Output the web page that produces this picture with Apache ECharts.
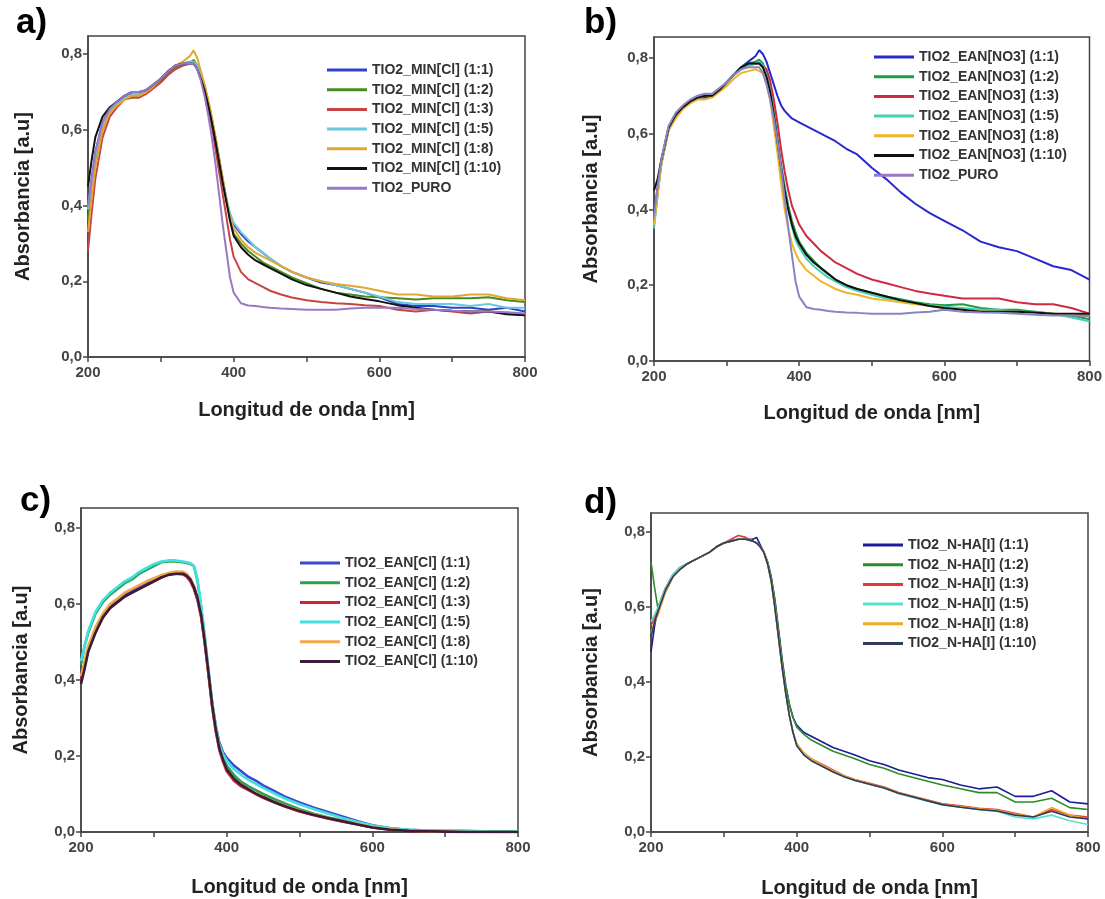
<!DOCTYPE html>
<html><head><meta charset="utf-8">
<script src="https://cdn.jsdelivr.net/npm/echarts@6/dist/echarts.min.js"></script>
<style>html,body{margin:0;padding:0;background:#fff}#c{width:1105px;height:899px}</style>
</head><body><div id="c"></div>
<script>
// wavelength grid (nm)
const X = [200,205,210,220,230,240,250,260,270,280,290,300,310,320,330,340,345,350,355,360,365,370,375,380,385,390,395,400,410,420,430,440,450,465,480,500,520,540,560,580,600,625,650,675,700,725,750,775,800];
const xTicks = [200,400,600,800];
const yTicks = [0,0.2,0.4,0.6,0.8];

// ---- panel a ----
const namesA = ['TIO2_MIN[Cl] (1:1)','TIO2_MIN[Cl] (1:2)','TIO2_MIN[Cl] (1:3)','TIO2_MIN[Cl] (1:5)','TIO2_MIN[Cl] (1:8)','TIO2_MIN[Cl] (1:10)','TIO2_PURO'];
const colorsA = ['#3340c8','#4b8a22','#c84444','#6cc8dc','#e0a830','#111111','#9a78c8'];
const a1 = [.40,.47,.54,.62,.655,.675,.69,.70,.695,.705,.72,.735,.755,.77,.775,.78,.78,.765,.74,.71,.67,.625,.575,.52,.465,.415,.375,.35,.325,.305,.29,.275,.26,.24,.225,.21,.197,.19,.18,.17,.158,.14,.135,.135,.13,.13,.125,.13,.12];
const a2 = [.36,.44,.51,.60,.645,.67,.685,.69,.69,.70,.715,.73,.75,.765,.77,.775,.785,.77,.745,.715,.675,.63,.58,.525,.47,.415,.365,.325,.30,.28,.265,.25,.24,.225,.21,.195,.18,.17,.165,.16,.158,.155,.152,.155,.155,.155,.158,.15,.145];
const a3 = [.28,.38,.47,.58,.635,.66,.68,.685,.685,.695,.71,.725,.745,.76,.77,.775,.78,.765,.74,.705,.66,.61,.55,.49,.43,.37,.31,.265,.225,.205,.195,.185,.175,.165,.157,.15,.145,.142,.14,.137,.135,.125,.12,.125,.12,.115,.12,.115,.11];
const a5 = [.39,.46,.53,.61,.65,.67,.685,.695,.695,.705,.72,.735,.755,.77,.775,.78,.78,.77,.745,.715,.675,.63,.58,.525,.47,.42,.38,.355,.33,.31,.29,.275,.26,.24,.225,.21,.20,.19,.18,.17,.16,.145,.14,.14,.14,.135,.14,.13,.13];
const a8 = [.33,.42,.50,.60,.645,.665,.68,.69,.69,.70,.715,.735,.755,.77,.78,.795,.81,.79,.755,.72,.68,.635,.58,.525,.47,.415,.37,.34,.31,.29,.275,.265,.255,.24,.225,.21,.20,.193,.188,.183,.175,.165,.165,.16,.16,.165,.165,.155,.15];
const a10 = [.45,.52,.58,.635,.66,.675,.69,.70,.70,.705,.72,.735,.755,.77,.775,.775,.775,.76,.735,.705,.665,.62,.57,.515,.46,.41,.36,.32,.29,.27,.255,.245,.235,.22,.205,.19,.18,.17,.16,.153,.147,.137,.13,.125,.122,.12,.12,.113,.11];
const aP = [.40,.47,.54,.62,.655,.675,.69,.70,.70,.705,.72,.735,.755,.77,.775,.775,.775,.76,.73,.69,.64,.58,.51,.43,.35,.28,.21,.17,.142,.136,.135,.132,.13,.128,.127,.125,.125,.125,.128,.13,.13,.13,.127,.125,.122,.12,.12,.118,.115];

// ---- panel b ----
const namesB = ['TIO2_EAN[NO3] (1:1)','TIO2_EAN[NO3] (1:2)','TIO2_EAN[NO3] (1:3)','TIO2_EAN[NO3] (1:5)','TIO2_EAN[NO3] (1:8)','TIO2_EAN[NO3] (1:10)','TIO2_PURO'];
const colorsB = ['#2828d0','#1f9a40','#d02a40','#44d0b4','#f0b428','#111111','#8a84c4'];
const b1 = [.38,.46,.53,.61,.645,.67,.685,.695,.695,.70,.715,.735,.755,.775,.79,.805,.82,.81,.79,.76,.73,.70,.675,.66,.65,.64,.635,.63,.62,.61,.60,.59,.58,.56,.545,.51,.48,.445,.415,.39,.37,.345,.315,.30,.29,.27,.25,.24,.215];
const b2 = [.36,.44,.52,.61,.645,.67,.685,.695,.70,.70,.715,.735,.755,.775,.785,.79,.795,.785,.76,.72,.66,.59,.52,.46,.41,.37,.34,.315,.285,.265,.245,.23,.215,.20,.19,.18,.17,.163,.155,.15,.147,.15,.14,.135,.135,.13,.125,.12,.11];
const b3 = [.37,.45,.52,.61,.645,.67,.685,.695,.70,.70,.715,.735,.755,.77,.78,.785,.785,.78,.77,.74,.69,.63,.56,.50,.45,.41,.385,.36,.33,.31,.29,.275,.26,.245,.23,.215,.205,.195,.185,.178,.172,.165,.165,.165,.155,.15,.15,.14,.125];
const b5 = [.35,.44,.52,.61,.645,.67,.685,.695,.70,.70,.715,.735,.755,.77,.78,.785,.79,.78,.755,.715,.655,.585,.515,.455,.40,.355,.32,.30,.27,.25,.235,.22,.21,.195,.185,.175,.165,.16,.152,.147,.143,.14,.135,.135,.13,.13,.125,.115,.105];
const b8 = [.36,.44,.52,.61,.64,.665,.68,.69,.69,.695,.71,.725,.745,.76,.765,.77,.765,.76,.73,.69,.62,.55,.47,.40,.35,.31,.285,.265,.24,.225,.21,.20,.19,.18,.175,.165,.16,.155,.15,.145,.14,.135,.13,.13,.13,.128,.125,.122,.12];
const b10 = [.45,.48,.53,.615,.65,.67,.685,.695,.70,.70,.715,.735,.755,.775,.785,.785,.785,.775,.75,.71,.65,.58,.51,.45,.40,.36,.33,.31,.28,.26,.245,.23,.215,.20,.19,.18,.17,.16,.153,.145,.14,.135,.13,.13,.13,.128,.125,.125,.125];
const bP = [.38,.46,.53,.62,.655,.675,.69,.70,.705,.705,.72,.735,.755,.77,.775,.775,.775,.76,.73,.69,.64,.58,.51,.43,.35,.28,.21,.17,.142,.137,.135,.132,.13,.128,.127,.125,.125,.125,.128,.13,.135,.13,.128,.127,.125,.122,.12,.12,.118];

// ---- panel c ----
const namesC = ['TIO2_EAN[Cl] (1:1)','TIO2_EAN[Cl] (1:2)','TIO2_EAN[Cl] (1:3)','TIO2_EAN[Cl] (1:5)','TIO2_EAN[Cl] (1:8)','TIO2_EAN[Cl] (1:10)'];
const colorsC = ['#3a48d0','#2ea050','#d02232','#44e0e0','#f0a848','#3a1c3a'];
const c1 = [.40,.44,.48,.53,.57,.595,.61,.625,.635,.645,.655,.665,.675,.68,.682,.68,.675,.665,.645,.615,.57,.50,.42,.34,.28,.235,.21,.195,.175,.16,.145,.135,.123,.108,.093,.078,.064,.052,.04,.028,.018,.01,.005,.003,.002,.001,.001,0,0];
const c2 = [.44,.49,.525,.575,.605,.625,.64,.655,.665,.68,.69,.70,.71,.712,.712,.71,.708,.706,.70,.66,.59,.51,.42,.34,.275,.225,.195,.175,.15,.132,.12,.11,.10,.087,.075,.06,.048,.038,.03,.022,.015,.009,.006,.004,.003,.003,.002,.002,.002];
const c3 = [.40,.44,.48,.53,.565,.59,.605,.62,.63,.64,.65,.66,.67,.678,.68,.678,.672,.66,.64,.61,.565,.495,.415,.33,.265,.215,.185,.16,.135,.12,.11,.10,.09,.078,.067,.054,.044,.035,.027,.02,.012,.006,.003,.002,.001,0,0,0,0];
const c5 = [.45,.49,.53,.58,.61,.63,.645,.66,.67,.685,.695,.705,.712,.715,.715,.712,.71,.708,.70,.665,.595,.515,.43,.345,.28,.23,.205,.188,.165,.15,.137,.127,.116,.102,.088,.073,.06,.048,.036,.026,.017,.01,.006,.004,.003,.002,.002,.001,.001];
const c8 = [.41,.45,.49,.54,.575,.60,.615,.63,.64,.65,.66,.668,.676,.682,.686,.685,.68,.668,.648,.615,.57,.50,.42,.335,.27,.22,.19,.165,.14,.125,.113,.102,.093,.08,.069,.056,.046,.037,.029,.021,.013,.007,.004,.002,.001,0,0,0,0];
const c10 = [.39,.43,.475,.525,.565,.59,.605,.62,.63,.64,.65,.66,.67,.677,.68,.68,.675,.665,.645,.615,.57,.50,.42,.335,.27,.22,.19,.165,.14,.124,.112,.101,.092,.079,.068,.055,.045,.036,.028,.02,.012,.006,.003,.002,.001,0,0,0,0];

// ---- panel d ----
const namesD = ['TIO2_N-HA[I] (1:1)','TIO2_N-HA[I] (1:2)','TIO2_N-HA[I] (1:3)','TIO2_N-HA[I] (1:5)','TIO2_N-HA[I] (1:8)','TIO2_N-HA[I] (1:10)'];
const colorsD = ['#1c1c96','#2a8c2a','#e03a3a','#58e0d0','#f0a828','#2c3c5c'];
const d1 = [.48,.55,.60,.65,.685,.705,.715,.725,.735,.745,.76,.77,.775,.78,.78,.78,.785,.765,.745,.72,.68,.62,.54,.46,.39,.34,.305,.285,.265,.255,.245,.235,.225,.215,.205,.19,.18,.165,.155,.145,.14,.125,.115,.12,.095,.095,.11,.08,.075];
const d2 = [.72,.65,.59,.64,.68,.70,.715,.725,.735,.745,.76,.77,.775,.78,.78,.775,.77,.76,.745,.72,.68,.62,.54,.46,.39,.34,.305,.28,.26,.245,.235,.225,.215,.205,.195,.18,.17,.155,.145,.135,.125,.115,.105,.105,.08,.08,.09,.065,.06];
const d3 = [.55,.57,.60,.65,.685,.705,.715,.725,.735,.745,.76,.77,.78,.79,.785,.775,.77,.76,.745,.715,.67,.60,.52,.44,.37,.31,.265,.235,.21,.195,.185,.175,.165,.15,.14,.13,.12,.105,.095,.085,.075,.07,.063,.06,.05,.04,.06,.045,.04];
const d5 = [.56,.58,.60,.65,.685,.705,.715,.725,.735,.745,.76,.77,.775,.78,.78,.775,.77,.76,.745,.715,.67,.60,.52,.44,.37,.31,.265,.235,.21,.195,.183,.172,.162,.148,.138,.127,.117,.102,.092,.082,.073,.066,.06,.055,.04,.035,.045,.03,.02];
const d8 = [.53,.56,.58,.64,.68,.70,.715,.725,.735,.745,.76,.77,.775,.78,.78,.775,.77,.76,.745,.715,.67,.60,.52,.44,.37,.31,.265,.235,.21,.195,.184,.173,.163,.149,.139,.128,.118,.104,.094,.084,.074,.068,.062,.058,.048,.04,.065,.045,.035];
const d10 = [.52,.56,.59,.645,.68,.70,.715,.725,.735,.745,.76,.77,.775,.78,.78,.775,.77,.76,.745,.715,.67,.60,.52,.44,.37,.31,.265,.23,.205,.19,.18,.17,.16,.147,.137,.127,.117,.103,.093,.083,.073,.066,.06,.056,.045,.04,.055,.04,.035];

const panels = [
  {names:namesA, colors:colorsA, data:[a1,a2,a3,a5,a8,a10,aP], grid:{left:88,top:36,width:437,height:321}, ymax:0.848, yGap:55, xGap:43, legend:{left:327,top:62}, lw:2},
  {names:namesB, colors:colorsB, data:[b1,b2,b3,b5,b8,b10,bP], grid:{left:654,top:37,width:437,height:324}, ymax:0.855, yGap:53, xGap:42, legend:{left:874,top:49}, lw:2},
  {names:namesC, colors:colorsC, data:[c1,c2,c3,c5,c8,c10], grid:{left:81,top:508,width:437,height:324}, ymax:0.853, yGap:50, xGap:45, legend:{left:300,top:555}, lw:2.6},
  {names:namesD, colors:colorsD, data:[d1,d2,d3,d5,d8,d10], grid:{left:651,top:513,width:437,height:321}, ymax:0.85, yGap:50, xGap:46, legend:{left:863,top:537}, lw:1.6}
];
const letters = [{t:'a)',l:16,tp:6},{t:'b)',l:584,tp:6},{t:'c)',l:20,tp:484},{t:'d)',l:584,tp:486}];

const FONT = 'Liberation Sans, Arial, sans-serif';
const option = {
  animation:false,
  backgroundColor:'#fff',
  title: letters.map(o=>({text:o.t, left:o.l, top:o.tp, padding:0, textStyle:{fontFamily:FONT,fontSize:35,fontWeight:'bold',color:'#000'}})),
  grid: panels.map(p=>Object.assign({show:true,borderColor:'#444',borderWidth:1.5,containLabel:false}, p.grid)),
  legend: panels.map((p,i)=>({
    data:p.names, orient:'vertical', left:p.legend.left, top:p.legend.top, padding:0,
    icon:'rect', itemWidth:40, itemHeight:3, itemGap:3.7, selectedMode:false,
    textStyle:{fontFamily:FONT,fontSize:14,fontWeight:'bold',color:'#333',lineHeight:16}
  })),
  xAxis: panels.map((p,i)=>({
    type:'value', gridIndex:i, min:200, max:800, interval:100,
    name:'Longitud de onda [nm]', nameLocation:'middle', nameGap:p.xGap,
    nameTextStyle:{fontFamily:FONT,fontSize:20,fontWeight:'bold',color:'#222'},
    axisLine:{show:true,lineStyle:{color:'#444',width:1.5}},
    axisTick:{show:true,length:5,lineStyle:{color:'#444',width:1.5}},
    axisLabel:{margin:8,fontFamily:FONT,fontSize:15,fontWeight:'bold',color:'#444',formatter:v=>(xTicks.indexOf(v)>=0?String(v):'')},
    splitLine:{show:false}
  })),
  yAxis: panels.map((p,i)=>({
    type:'value', gridIndex:i, min:0, max:p.ymax, interval:0.2,
    name:'Absorbancia [a.u]', nameLocation:'middle', nameGap:p.yGap,
    nameTextStyle:{fontFamily:FONT,fontSize:20,fontWeight:'bold',color:'#222'},
    axisLine:{show:true,lineStyle:{color:'#444',width:1.5}},
    axisTick:{show:true,length:5,lineStyle:{color:'#444',width:1.5},customValues:yTicks},
    axisLabel:{margin:6,fontFamily:FONT,fontSize:15,fontWeight:'bold',color:'#444',customValues:yTicks,
      formatter:v=>(v>0.81?'':v.toFixed(1).replace('.',','))},
    splitLine:{show:false}
  })),
  series: []
};
panels.forEach((p,i)=>{
  p.names.forEach((n,k)=>{
    option.series.push({
      type:'line', name:n, xAxisIndex:i, yAxisIndex:i, showSymbol:false, symbol:'none',
      color:p.colors[k], lineStyle:{width:p.lw,color:p.colors[k]},
      data:X.map((x,j)=>[x,p.data[k][j]])
    });
  });
});
const chart = echarts.init(document.getElementById('c'), null, {renderer:'canvas'});
chart.setOption(option);
</script></body></html>
